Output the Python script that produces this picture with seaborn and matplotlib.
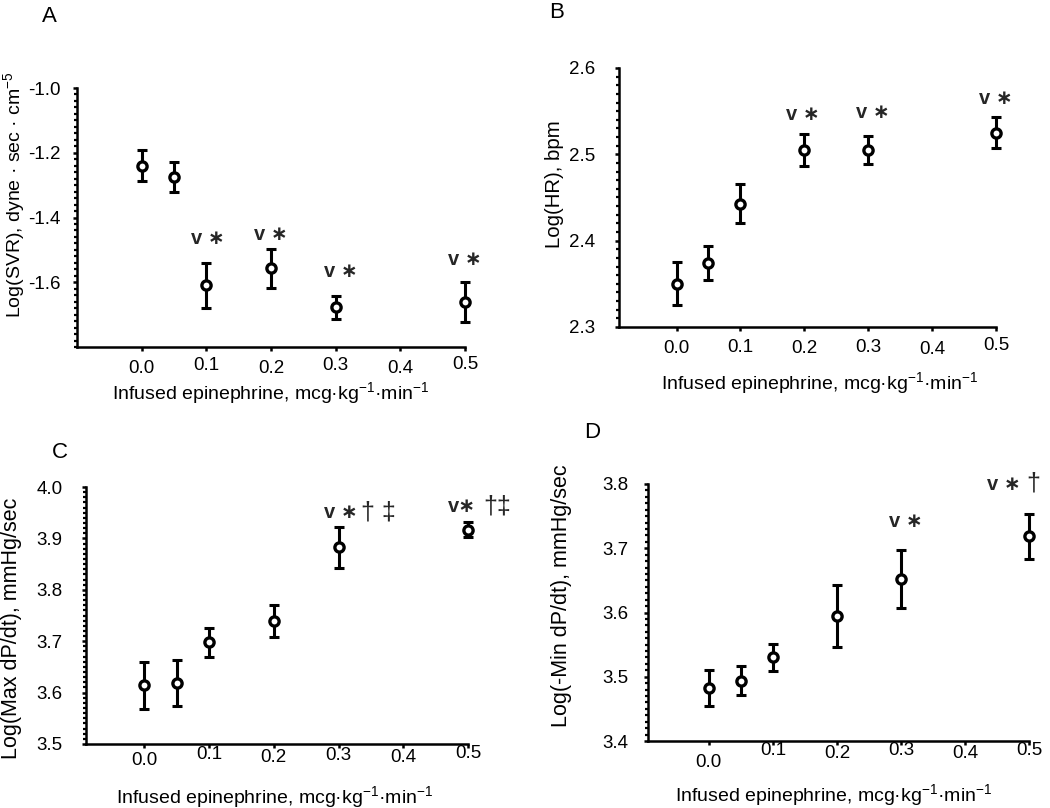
import numpy as np
import pandas as pd
import seaborn as sns
import matplotlib
matplotlib.use("Agg")
import matplotlib.pyplot as plt
from matplotlib.ticker import MultipleLocator
from matplotlib.transforms import ScaledTranslation, blended_transform_factory

# ---------------- data ----------------
dose = [0.0, 0.05, 0.1, 0.2, 0.3, 0.5]

svr_mean = [-1.240, -1.275, -1.610, -1.557, -1.677, -1.661]
svr_err = [0.048, 0.045, 0.068, 0.060, 0.035, 0.063]

hr_mean = [2.350, 2.374, 2.443, 2.505, 2.505, 2.525]
hr_err = [0.025, 0.020, 0.023, 0.019, 0.016, 0.018]

maxdp_mean = [3.614, 3.619, 3.698, 3.740, 3.883, 3.917]
maxdp_err = [0.046, 0.045, 0.028, 0.031, 0.040, 0.015]

mindp_mean = [3.482, 3.494, 3.530, 3.595, 3.652, 3.719]
mindp_err = [0.028, 0.023, 0.021, 0.048, 0.045, 0.035]

xtick_vals = [0.0, 0.1, 0.2, 0.3, 0.4, 0.5]
xtick_labels = ["0.0", "0.1", "0.2", "0.3", "0.4", "0.5"]

xlabel = "Infused epinephrine, mcg\u00b7kg$^{-1}$\u00b7min$^{-1}$"

# significance annotations: (x, y, bold text, dagger text, dagger x)
annot_A = [(0.103, -1.464, "v \u2217", None, None),
           (0.200, -1.454, "v \u2217", None, None),
           (0.308, -1.568, "v \u2217", None, None),
           (0.500, -1.530, "v \u2217", None, None)]
annot_B = [(0.197, 2.546, "v \u2217", None, None),
           (0.307, 2.549, "v \u2217", None, None),
           (0.500, 2.565, "v \u2217", None, None)]
annot_C = [(0.303, 3.951, "v \u2217", "\u2020 \u2021", 0.362),
           (0.490, 3.962, "v\u2217", "\u2020\u2021", 0.545)]
annot_D = [(0.307, 3.742, "v \u2217", None, None),
           (0.461, 3.800, "v \u2217", "\u2020", 0.506)]

# ---------------- style ----------------
sns.set_theme(style="ticks")
plt.rcParams["font.family"] = ["Liberation Sans", "DejaVu Sans"]
plt.rcParams["mathtext.fontset"] = "custom"
plt.rcParams["mathtext.rm"] = "Liberation Sans"
plt.rcParams["mathtext.it"] = "Liberation Sans"

W, H = 1050, 808
fig = plt.figure(figsize=(W / 100, H / 100), dpi=100)


def px_axes(l, r, t, b):
    return fig.add_axes([l / W, 1 - b / H, (r - l) / W, (b - t) / H])


panels = [
    dict(rect=(77, 465, 88, 347), mean=svr_mean, err=svr_err, xlim=(-0.1, 0.5),
         ylim=(-1.8, -1.0), yticks=[-1.6, -1.4, -1.2, -1.0], minor=0.02,
         ylabel="Log(SVR), dyne \u00b7 sec \u00b7 cm$^{-5}$", ylab_xy=(-0.163, 0.587),
         ylab_fs=14.0,
         xlab_xy=(0.5, -0.178), ypad=9.0, xdrop=[19.7, 16.3, 19.7, 16.3, 19.7, 15.3],
         annots=annot_A, letter="A", letter_xy=(49, 16)),
    dict(rect=(619, 996, 68, 327), mean=hr_mean, err=hr_err, xlim=(-0.09, 0.5),
         ylim=(2.3, 2.6), yticks=[2.3, 2.4, 2.5, 2.6], minor=0.01,
         ylabel="Log(HR), bpm", ylab_xy=(-0.17, 0.55), ylab_fs=14.7,
         xlab_xy=(0.533, -0.216), ypad=14.0, xdrop=[19.7, 18.0, 19.7, 18.0, 20.3, 16.3],
         annots=annot_B, letter="B", letter_xy=(557, 12)),
    dict(rect=(86, 468, 487, 744), mean=maxdp_mean, err=maxdp_err, xlim=(-0.09, 0.5),
         ylim=(3.5, 4.0), yticks=[3.5, 3.6, 3.7, 3.8, 3.9, 4.0], minor=0.01,
         ylabel="Log(Max dP/dt), mmHg/sec", ylab_xy=(-0.196, 0.45), ylab_fs=15.5,
         xlab_xy=(0.495, -0.206), ypad=14.0, xdrop=[14.3, 8.7, 12.0, 9.3, 12.0, 7.7],
         annots=annot_C, letter="C", letter_xy=(60, 452)),
    dict(rect=(648, 1029, 484, 741), mean=mindp_mean, err=mindp_err, xlim=(-0.095, 0.5),
         ylim=(3.4, 3.8), yticks=[3.4, 3.5, 3.6, 3.7, 3.8], minor=0.01,
         ylabel="Log(-Min dP/dt), mmHg/sec", ylab_xy=(-0.226, 0.564), ylab_fs=15.5,
         xlab_xy=(0.486, -0.21), ypad=11.0, xdrop=[19.7, 7.3, 10.7, 7.3, 10.7, 7.3],
         annots=annot_D, letter="D", letter_xy=(592, 433)),
]

for p in panels:
    ax = px_axes(*p["rect"])
    df = pd.DataFrame({"dose": dose, "mean": p["mean"], "err": p["err"]})
    ax.errorbar(df["dose"], df["mean"], yerr=df["err"], fmt="none", ecolor="black",
                elinewidth=2.2, capsize=3.6, capthick=2.2, zorder=2, clip_on=False)
    sns.scatterplot(data=df, x="dose", y="mean", ax=ax, marker="o", s=44,
                    facecolor="white", edgecolor="black", linewidth=2.4,
                    zorder=3, legend=False, clip_on=False)
    ax.set_xlim(*p["xlim"])
    ax.set_ylim(*p["ylim"])
    ax.set_xticks(xtick_vals)
    ax.set_yticks(p["yticks"])
    ax.set_yticklabels(["{:.1f}".format(v) for v in p["yticks"]])
    ax.yaxis.set_minor_locator(MultipleLocator(p["minor"]))
    for s in ["top", "right"]:
        ax.spines[s].set_visible(False)
    for s in ["left", "bottom"]:
        ax.spines[s].set_linewidth(1.8)
        ax.spines[s].set_color("black")
    ax.tick_params(axis="y", which="major", direction="out", length=3, width=1.8,
                   labelsize=13.5, pad=p["ypad"], colors="black")
    ax.tick_params(axis="y", which="minor", direction="out", length=2.0, width=1.6,
                   colors="black")
    ax.tick_params(axis="x", which="major", direction="out", length=3, width=1.8,
                   labelbottom=False, colors="black")
    # x tick labels (staggered as in the original figure)
    btrans = blended_transform_factory(ax.transData, ax.transAxes)
    for v, lab, d in zip(xtick_vals, xtick_labels, p["xdrop"]):
        tr = btrans + ScaledTranslation(0, -(d + 2.0) / 100, fig.dpi_scale_trans)
        ax.text(v, 0, lab, transform=tr, ha="center", va="center", fontsize=13.5,
                color="black", clip_on=False)
    ax.set_xlabel(xlabel, fontsize=14, color="black", va="center")
    ax.set_ylabel(p["ylabel"], fontsize=p["ylab_fs"], color="black", va="center")
    ax.xaxis.set_label_coords(*p["xlab_xy"])
    ax.yaxis.set_label_coords(*p["ylab_xy"])
    for (x, y, btxt, dtxt, dx) in p["annots"]:
        ax.text(x, y, btxt, ha="center", va="center", fontsize=14.5, fontweight="bold",
                family=["Liberation Sans", "DejaVu Sans"], clip_on=False)
        if dtxt:
            ax.text(dx, y, dtxt, ha="center", va="center", fontsize=18,
                    family=["Liberation Sans", "DejaVu Sans"], clip_on=False)
    fig.text(p["letter_xy"][0] / W, 1 - p["letter_xy"][1] / H, p["letter"],
             ha="center", va="center", fontsize=16, color="black")

fig.savefig("out.png", dpi=100)
